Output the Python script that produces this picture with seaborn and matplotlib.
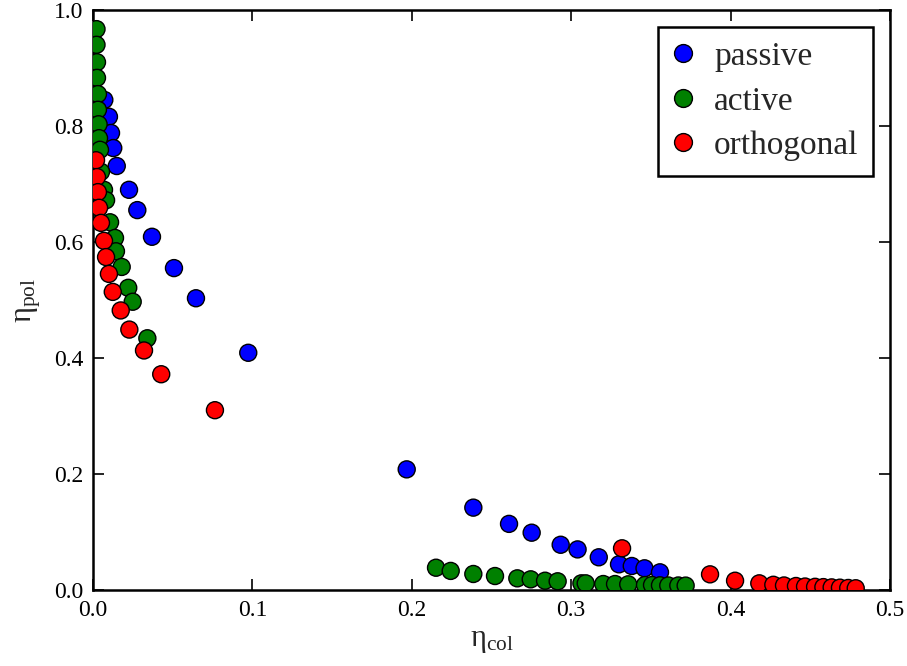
import matplotlib
matplotlib.use("Agg")
import matplotlib.pyplot as plt
import seaborn as sns
import pandas as pd

passive_x = [0.0071, 0.0100, 0.0113, 0.0127, 0.0149, 0.0226, 0.0278, 0.0370, 0.0508, 0.0646,
             0.0974, 0.1968, 0.2386, 0.2610, 0.2752, 0.2934, 0.3040, 0.3173, 0.3300, 0.3380,
             0.3460, 0.3557]
passive_y = [0.845, 0.816, 0.788, 0.762, 0.731, 0.690, 0.655, 0.609, 0.555, 0.503,
             0.409, 0.208, 0.142, 0.114, 0.0988, 0.078, 0.070, 0.0564, 0.0443, 0.0414,
             0.0374, 0.0305]

active_x = [0.0022, 0.0022, 0.0025, 0.0025, 0.0031, 0.0031, 0.0035, 0.0038, 0.0044, 0.0050,
            0.0069, 0.0082, 0.0107, 0.0138, 0.0144, 0.0180, 0.0221, 0.0249, 0.0341,
            0.2152, 0.2244, 0.2386, 0.2522, 0.2662, 0.2746, 0.2836, 0.2915, 0.3064, 0.3091,
            0.3201, 0.3275, 0.3358, 0.3463, 0.3507, 0.3557, 0.3609, 0.3672, 0.3718]
active_y = [0.967, 0.940, 0.910, 0.883, 0.855, 0.828, 0.803, 0.779, 0.759, 0.721,
            0.690, 0.672, 0.634, 0.607, 0.584, 0.557, 0.521, 0.497, 0.434,
            0.0384, 0.0329, 0.0276, 0.0241, 0.0201, 0.0184, 0.0160, 0.0150, 0.0115, 0.0115,
            0.0103, 0.0103, 0.0098, 0.0086, 0.0086, 0.0081, 0.0078, 0.0078, 0.0076]

orth_x = [0.0019, 0.0025, 0.0031, 0.0038, 0.0050, 0.0069, 0.0082, 0.0100, 0.0124, 0.0174,
          0.0228, 0.0320, 0.0428, 0.0765, 0.3319, 0.3871, 0.4028, 0.4180, 0.4268, 0.4335,
          0.4410, 0.4467, 0.4530, 0.4582, 0.4634, 0.4686, 0.4738, 0.4785]
orth_y = [0.741, 0.712, 0.686, 0.659, 0.633, 0.602, 0.574, 0.545, 0.514, 0.482,
          0.449, 0.413, 0.372, 0.310, 0.0719, 0.027, 0.016, 0.0115, 0.009, 0.0078,
          0.0069, 0.006, 0.0055, 0.005, 0.0045, 0.004, 0.0035, 0.003]

categories = ["passive", "active", "orthogonal"]
colors = ["blue", "green", "red"]
xticks = [0.0, 0.1, 0.2, 0.3, 0.4, 0.5]
yticks = [0.0, 0.2, 0.4, 0.6, 0.8, 1.0]

df = pd.concat([
    pd.DataFrame({"x": passive_x, "y": passive_y, "kind": "passive"}),
    pd.DataFrame({"x": active_x, "y": active_y, "kind": "active"}),
    pd.DataFrame({"x": orth_x, "y": orth_y, "kind": "orthogonal"}),
], ignore_index=True)

sns.set_style("ticks")
plt.rcParams["font.family"] = ["Liberation Serif", "DejaVu Serif"]
plt.rcParams["mathtext.fontset"] = "custom"
plt.rcParams["mathtext.rm"] = "Liberation Serif"
plt.rcParams["mathtext.it"] = "Liberation Serif:italic"

fig = plt.figure(figsize=(9.07, 6.66), dpi=100)
ax = fig.add_axes([93 / 907, 76 / 666, (890 - 93) / 907, (590 - 10) / 666])

sns.scatterplot(data=df, x="x", y="y", hue="kind", hue_order=categories,
                palette=dict(zip(categories, colors)), s=150, edgecolor="black",
                linewidth=1.0, ax=ax, zorder=3)

ax.set_xlim(0, 0.5)
ax.set_ylim(0, 1.0)
ax.set_xticks(xticks)
ax.set_yticks(yticks)
ax.xaxis.set_major_formatter(matplotlib.ticker.FormatStrFormatter("%.1f"))
ax.yaxis.set_major_formatter(matplotlib.ticker.FormatStrFormatter("%.1f"))
ax.tick_params(direction="in", length=8, width=1.2, top=True, right=True,
               labelsize=17, pad=7, colors="black")
for sp in ax.spines.values():
    sp.set_linewidth(1.8)
    sp.set_color("black")

ax.set_xlabel("η$_{\\mathrm{col}}$", fontsize=22, labelpad=4)
ax.set_ylabel("η$_{\\mathrm{pol}}$", fontsize=22, labelpad=8)

leg = ax.legend(loc="upper right", fontsize=24, frameon=True, fancybox=False,
                handlelength=0.6, handletextpad=0.64, borderpad=0.45,
                labelspacing=0.42, markerscale=1.05, borderaxespad=0.5)
leg.get_frame().set_edgecolor("black")
leg.get_frame().set_linewidth(1.8)
leg.get_frame().set_alpha(1)

fig.savefig("out.png", dpi=100)
